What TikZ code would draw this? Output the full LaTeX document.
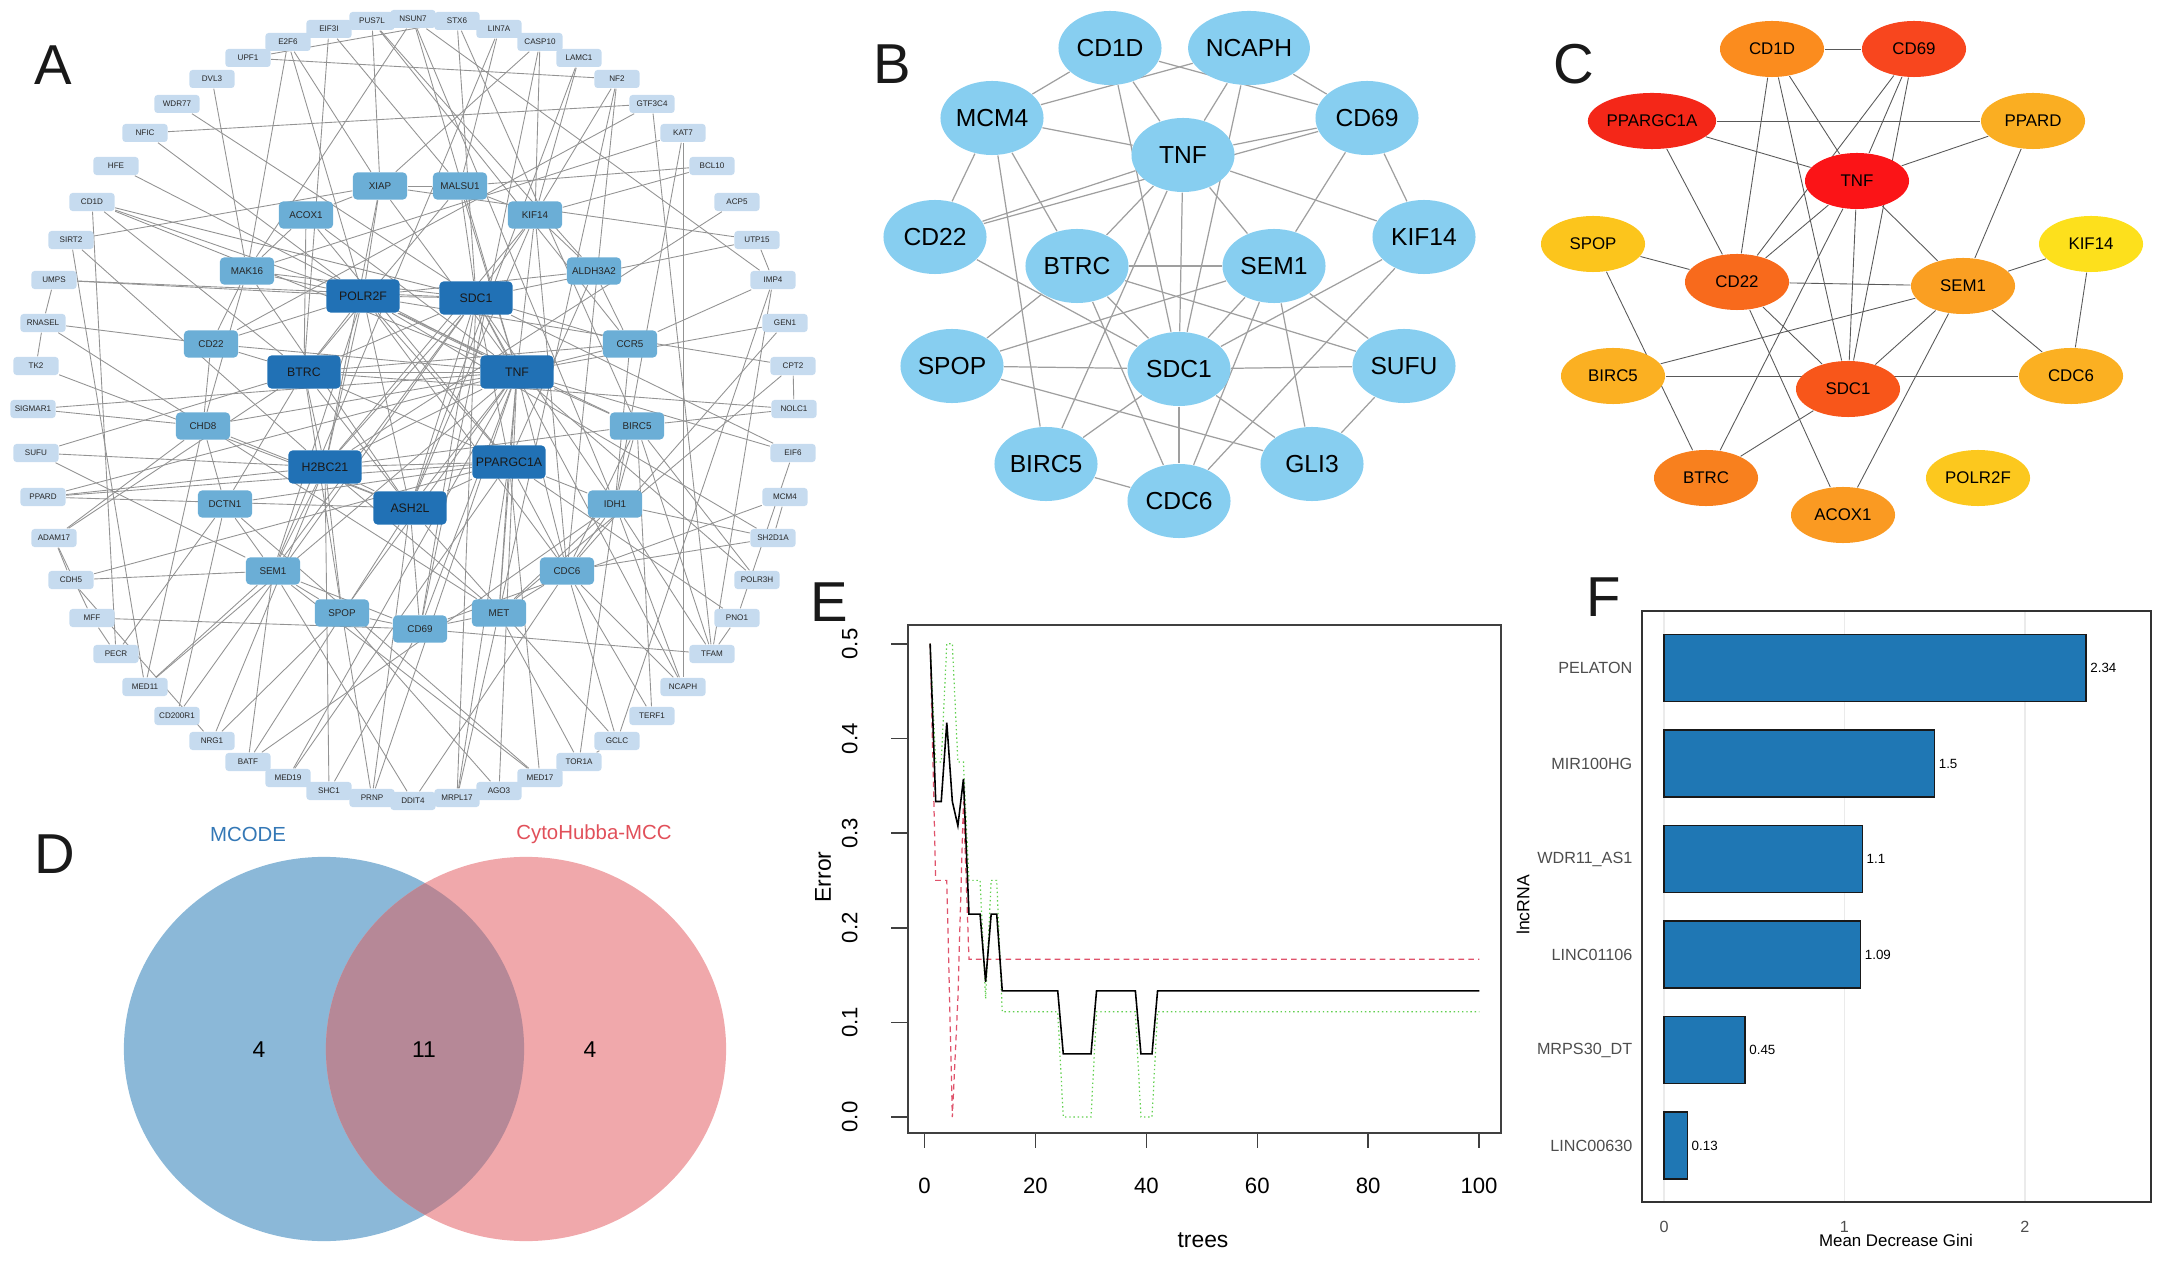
\documentclass[tikz,border=0pt]{standalone}
\usepackage{fontspec}
\setmainfont{Liberation Sans}
\usetikzlibrary{shapes.geometric,backgrounds}
\definecolor{aouter}{RGB}{198,219,239}
\definecolor{amid}{RGB}{107,174,214}
\definecolor{ainner}{RGB}{33,113,181}
\definecolor{bsky}{RGB}{135,206,240}
\definecolor{hCD1D}{RGB}{251,140,30}
\definecolor{hCD69}{RGB}{248,70,30}
\definecolor{hPPARGC1A}{RGB}{244,39,24}
\definecolor{hPPARD}{RGB}{250,174,34}
\definecolor{hTNF}{RGB}{251,20,23}
\definecolor{hSPOP}{RGB}{252,197,28}
\definecolor{hKIF14}{RGB}{253,224,28}
\definecolor{hCD22}{RGB}{248,106,28}
\definecolor{hSEM1}{RGB}{250,159,34}
\definecolor{hBIRC5}{RGB}{251,176,34}
\definecolor{hCDC6}{RGB}{251,176,34}
\definecolor{hSDC1}{RGB}{248,86,26}
\definecolor{hBTRC}{RGB}{248,128,30}
\definecolor{hPOLR2F}{RGB}{252,200,30}
\definecolor{hACOX1}{RGB}{250,154,34}
\definecolor{vblue}{RGB}{139,184,216}
\definecolor{vpink}{RGB}{240,168,171}
\definecolor{vover}{RGB}{182,136,151}
\definecolor{vbluetxt}{RGB}{52,120,182}
\definecolor{vredtxt}{RGB}{225,80,90}
\definecolor{rfred}{RGB}{223,83,107}
\definecolor{rfgreen}{RGB}{97,208,79}
\definecolor{fbar}{RGB}{31,119,180}
\definecolor{fgray}{RGB}{77,77,77}

\begin{document}
\begin{tikzpicture}[x=0.01cm,y=-0.01cm,
  an/.style={rounded corners=0.3mm,fill=aouter,minimum width=4.5mm,minimum height=1.8mm,inner sep=0pt,font=\fontsize{2.3}{2.8}\selectfont,text=black!85},
  am/.style={rounded corners=0.4mm,fill=amid,minimum width=5.4mm,minimum height=2.7mm,inner sep=0pt,font=\fontsize{2.8}{3.4}\selectfont,text=black!85},
  ai/.style={rounded corners=0.4mm,fill=ainner,minimum width=7.3mm,minimum height=3.3mm,inner sep=0pt,font=\fontsize{3.5}{4.2}\selectfont,text=black!90},
  aedge/.style={draw=gray!85,line width=0.25pt},
  bn/.style={ellipse,fill=bsky,minimum width=10.3mm,minimum height=7.4mm,inner sep=0pt,font=\fontsize{7}{8}\selectfont},
  bedge/.style={draw=gray!75,line width=0.35pt},
  cn/.style={ellipse,minimum width=10.4mm,minimum height=5.6mm,inner sep=0pt,font=\fontsize{4.8}{5.6}\selectfont},
  cedge/.style={draw=black!65,line width=0.25pt},
  lab/.style={font=\fontsize{16}{18}\selectfont,text=black!90}]
\useasboundingbox (0,0) rectangle (2160,1261);

\node[lab] (labA) at (53,65) {A};
\node[lab] (labB) at (892,64) {B};
\node[lab] (labC) at (1574,64) {C};
\node[lab] (labD) at (55,854) {D};
\node[lab] (labE) at (829,602) {E};
\node[lab] (labF) at (1604,597) {F};

\foreach \n/\x/\y in {NSUN7/413/19,STX6/457/21,LIN7A/499/29,CASP10/540/42,LAMC1/579/58,NF2/617/79,
  GTF3C4/652/104,KAT7/683/133,BCL10/712/166,ACP5/737/202,UTP15/757/240,IMP4/773/280,GEN1/785/323,
  CPT2/793/366,NOLC1/794/409,EIF6/793/453,MCM4/785/497,SH2D1A/773/538,POLR3H/757/580,PNO1/737/618,
  TFAM/712/654,NCAPH/683/687,TERF1/652/716,GCLC/617/741,TOR1A/579/762,MED17/540/778,AGO3/499/791,
  MRPL17/457/798,DDIT4/413/801,PRNP/372/798,SHC1/329/791,MED19/288/778,BATF/248/762,NRG1/212/741,
  CD200R1/177/716,MED11/145/687,PECR/116/654,MFF/92/618,CDH5/71/580,ADAM17/54/538,PPARD/43/497,
  SUFU/36/453,SIGMAR1/33/409,TK2/36/366,RNASEL/43/323,UMPS/54/280,SIRT2/71/240,CD1D/92/202,
  HFE/116/166,NFIC/145/133,WDR77/177/104,DVL3/212/79,UPF1/248/58,E2F6/288/42,EIF3I/329/29,PUS7L/372/21}
  \node[an] (a\n) at (\x,\y) {\n};
\foreach \n/\x/\y in {XIAP/380/186,MALSU1/460/186,KIF14/535/215,ALDH3A2/594/271,CCR5/630/344,
  BIRC5/637/426,IDH1/615/504,CDC6/567/571,MET/499/613,CD69/420/629,SPOP/342/613,SEM1/273/571,
  DCTN1/225/504,CHD8/203/426,CD22/211/344,MAK16/247/271,ACOX1/306/215}
  \node[am] (a\n) at (\x,\y) {\n};
\foreach \n/\x/\y in {POLR2F/363/296,SDC1/476/298,TNF/517/372,PPARGC1A/509/462,ASH2L/410/508,
  H2BC21/325/467,BTRC/304/372}
  \node[ai] (a\n) at (\x,\y) {\n};

\foreach \n/\x/\y in {CD1D/1110/48,NCAPH/1249/48,MCM4/992/118,CD69/1367/118,TNF/1183/155,
  CD22/935/237,KIF14/1424/237,BTRC/1077/266,SEM1/1274/266,SPOP/952/366,SDC1/1179/369,
  SUFU/1404/366,BIRC5/1046/464,GLI3/1312/464,CDC6/1179/501}
  \node[bn] (b\n) at (\x,\y) {\n};

\foreach \n/\x/\y in {CD1D/1772/49,CD69/1914/49,PPARGC1A/1652/121,PPARD/2033/121,TNF/1857/181,
  SPOP/1593/244,KIF14/2091/244,CD22/1737/282,SEM1/1963/286,BIRC5/1613/376,CDC6/2071/376,
  SDC1/1848/389,BTRC/1706/478,POLR2F/1978/478,ACOX1/1843/515}
  \node[cn,fill=h\n] (c\n) at (\x,\y) {\n};

\begin{scope}[on background layer]
\foreach \u/\v in {POLR2F/SDC1,POLR2F/TNF,POLR2F/BTRC,POLR2F/H2BC21,POLR2F/ASH2L,POLR2F/PPARGC1A,
  SDC1/TNF,SDC1/BTRC,SDC1/H2BC21,SDC1/PPARGC1A,SDC1/ASH2L,TNF/BTRC,TNF/PPARGC1A,TNF/H2BC21,
  TNF/ASH2L,BTRC/H2BC21,BTRC/ASH2L,BTRC/PPARGC1A,H2BC21/ASH2L,H2BC21/PPARGC1A,ASH2L/PPARGC1A,
  XIAP/POLR2F,XIAP/TNF,XIAP/H2BC21,MALSU1/SDC1,MALSU1/BTRC,MALSU1/TNF,KIF14/SDC1,KIF14/TNF,
  KIF14/H2BC21,KIF14/ASH2L,ALDH3A2/POLR2F,ALDH3A2/PPARGC1A,CCR5/TNF,CCR5/BTRC,CCR5/SDC1,
  BIRC5/TNF,BIRC5/POLR2F,BIRC5/H2BC21,IDH1/PPARGC1A,IDH1/SDC1,CDC6/TNF,CDC6/PPARGC1A,
  CDC6/POLR2F,MET/PPARGC1A,MET/TNF,MET/H2BC21,CD69/ASH2L,CD69/TNF,CD69/SDC1,SPOP/H2BC21,
  SPOP/TNF,SPOP/BTRC,SEM1/H2BC21,SEM1/SDC1,SEM1/POLR2F,DCTN1/BTRC,DCTN1/PPARGC1A,CHD8/TNF,
  CHD8/ASH2L,CD22/POLR2F,CD22/BTRC,CD22/TNF,MAK16/POLR2F,MAK16/SDC1,MAK16/ASH2L,ACOX1/BTRC,
  ACOX1/PPARGC1A,ACOX1/TNF,XIAP/MALSU1,XIAP/ACOX1,MALSU1/KIF14,KIF14/ALDH3A2,ALDH3A2/CCR5,
  CCR5/IDH1,BIRC5/IDH1,BIRC5/CDC6,IDH1/CDC6,CDC6/MET,MET/CD69,CD69/SPOP,SPOP/SEM1,SEM1/DCTN1,
  DCTN1/CHD8,CHD8/CD22,CD22/MAK16,MAK16/ACOX1,SEM1/CD69,KIF14/CDC6,MAK16/CHD8,IDH1/MET}
  \draw[aedge] (a\u) -- (a\v);
\foreach \u/\v in {NSUN7/TNF,NSUN7/MAK16,NSUN7/IDH1,STX6/SDC1,STX6/BIRC5,LIN7A/MALSU1,LIN7A/SEM1,
  CASP10/KIF14,CASP10/XIAP,CASP10/CD69,LAMC1/ASH2L,LAMC1/KIF14,NF2/KIF14,NF2/UPF1,NF2/CDC6,NF2/MET,
  GTF3C4/CD22,GTF3C4/TFAM,KAT7/IDH1,KAT7/NCAPH,KAT7/MAK16,BCL10/MALSU1,BCL10/KIF14,ACP5/H2BC21,
  UTP15/SDC1,UTP15/IMP4,UTP15/XIAP,IMP4/NSUN7,IMP4/CCR5,IMP4/TFAM,IMP4/GCLC,GEN1/TNF,GEN1/CDC6,
  CPT2/POLR2F,CPT2/NOLC1,CPT2/MET,NOLC1/BTRC,NOLC1/BIRC5,EIF6/TNF,EIF6/SDC1,EIF6/PNO1,MCM4/CD69,
  MCM4/SH2D1A,SH2D1A/POLR2F,SH2D1A/IDH1,SH2D1A/CDC6,POLR3H/BIRC5,POLR3H/TNF,PNO1/PPARGC1A,
  PNO1/TFAM,TFAM/CD69,TFAM/BIRC5,TFAM/IDH1,NCAPH/CDC6,NCAPH/IDH1,NCAPH/SDC1,TERF1/CDC6,
  TERF1/BIRC5,GCLC/CDC6,GCLC/ASH2L,TOR1A/MET,TOR1A/GCLC,TOR1A/IDH1,MED17/PPARGC1A,MED17/DCTN1,
  MED17/SEM1,AGO3/TNF,AGO3/SPOP,MRPL17/SDC1,MRPL17/PPARGC1A,MRPL17/MET,DDIT4/SEM1,DDIT4/CDC6,
  PRNP/SPOP,PRNP/ASH2L,PRNP/TNF,SHC1/H2BC21,SHC1/CD69,MED19/PPARGC1A,MED19/BATF,MED19/TNF,
  BATF/ASH2L,BATF/SEM1,BATF/IDH1,NRG1/H2BC21,NRG1/SPOP,NRG1/CDH5,CD200R1/DCTN1,CD200R1/SDC1,
  MED11/SEM1,MED11/CHD8,MED11/TNF,PECR/DCTN1,PECR/MFF,MFF/CD69,MFF/ADAM17,CDH5/SEM1,
  CDH5/PPARGC1A,CDH5/ADAM17,ADAM17/CHD8,ADAM17/BTRC,PPARD/H2BC21,PPARD/PPARGC1A,PPARD/ASH2L,
  PPARD/TNF,SUFU/SEM1,SUFU/BTRC,SUFU/H2BC21,SIGMAR1/CHD8,SIGMAR1/TNF,TK2/ASH2L,TK2/RNASEL,
  RNASEL/CD22,RNASEL/UMPS,RNASEL/MET,UMPS/POLR2F,UMPS/SDC1,SIRT2/XIAP,SIRT2/H2BC21,SIRT2/MED11,
  CD1D/BTRC,CD1D/TNF,CD1D/POLR2F,CD1D/SDC1,CD1D/PECR,HFE/TNF,NFIC/POLR2F,NFIC/GTF3C4,WDR77/SDC1,
  DVL3/MAK16,UPF1/STX6,E2F6/MAK16,E2F6/POLR2F,E2F6/XIAP,EIF3I/BTRC,EIF3I/MALSU1,PUS7L/XIAP,
  PUS7L/ALDH3A2,PUS7L/CCR5}
  \draw[aedge] (a\u) -- (a\v);
\foreach \u/\v in {CD1D/CD69,CD1D/MCM4,CD1D/TNF,CD1D/SDC1,NCAPH/MCM4,NCAPH/TNF,NCAPH/SDC1,
  NCAPH/CD69,MCM4/TNF,MCM4/CD22,MCM4/BTRC,MCM4/BIRC5,TNF/CD69,CD22/CD69,CD22/TNF,TNF/BTRC,
  TNF/SDC1,TNF/SEM1,TNF/KIF14,TNF/BIRC5,CD69/SEM1,CD69/KIF14,CD22/SDC1,BTRC/SEM1,BTRC/SDC1,
  BTRC/SPOP,BTRC/SUFU,BTRC/CDC6,SEM1/SPOP,SEM1/SDC1,SEM1/SUFU,SEM1/GLI3,SEM1/CDC6,KIF14/SDC1,
  KIF14/CDC6,SPOP/SDC1,SPOP/GLI3,SDC1/SUFU,SDC1/BIRC5,SDC1/CDC6,SDC1/GLI3,SUFU/GLI3,BIRC5/CDC6}
  \draw[bedge] (b\u) -- (b\v);
\foreach \u/\v in {CD1D/CD69,CD1D/CD22,CD1D/SDC1,CD1D/TNF,CD69/CD22,CD69/TNF,CD69/SDC1,
  PPARGC1A/PPARD,PPARGC1A/TNF,PPARGC1A/CD22,PPARD/TNF,PPARD/SEM1,TNF/CD22,TNF/SDC1,TNF/SEM1,
  TNF/BTRC,SPOP/CD22,CD22/SEM1,SPOP/BTRC,CD22/SDC1,CD22/ACOX1,SEM1/BIRC5,SEM1/SDC1,SEM1/ACOX1,
  SEM1/CDC6,SEM1/KIF14,KIF14/CDC6,BIRC5/CDC6,SDC1/BTRC}
  \draw[cedge] (c\u) -- (c\v);
\end{scope}

\fill[vblue] (324,1049) ellipse [x radius=2cm,y radius=1.92cm];
\fill[vpink] (526,1049) ellipse [x radius=2cm,y radius=1.92cm];
\begin{scope}
  \clip (324,1049) ellipse [x radius=2cm,y radius=1.92cm];
  \fill[vover] (526,1049) ellipse [x radius=2cm,y radius=1.92cm];
\end{scope}
\node[text=vbluetxt,font=\fontsize{5.8}{7}\selectfont] (mcode) at (248,834) {MCODE};
\node[text=vredtxt,font=\fontsize{5.8}{7}\selectfont] (mcc) at (594,834) {CytoHubba-MCC};
\node[font=\fontsize{6.5}{8}\selectfont] (vl) at (259,1050) {4};
\node[font=\fontsize{6.5}{8}\selectfont] (vm) at (424,1050) {11};
\node[font=\fontsize{6.5}{8}\selectfont] (vr) at (590,1050) {4};

\draw[black!75,line width=0.4pt] (908,625) rectangle (1501,1133);
\foreach \t in {0,20,...,100}
  \draw[black!75,line width=0.4pt] ({924.6+5.544*\t},1133) -- ++(0,15)
    node[below=5pt,font=\fontsize{6.3}{7.5}\selectfont,text=black] {\t};
\foreach \v in {0.0,0.1,0.2,0.3,0.4,0.5}
  \draw[black!75,line width=0.4pt] (908,{1117-946*\v}) -- ++(-17,0)
    node[left=6pt,anchor=south,rotate=90,font=\fontsize{6.3}{7.5}\selectfont,text=black] {\v};
\node[rotate=90,font=\fontsize{6.5}{8}\selectfont] (err) at (823,877) {Error};
\node[font=\fontsize{6.5}{8}\selectfont] (trees) at (1203,1240) {trees};
\begin{scope}[shift={(924.6,1117)},x=0.05544cm,y=9.46cm]
  \draw[rfgreen,line width=0.35pt,dash pattern=on 0.4pt off 0.8pt] plot coordinates {(1,0.5) (2,0.375) (3,0.375) (4,0.5) (5,0.5)
    (6,0.375) (7,0.375) (8,0.25) (10,0.25) (11,0.125) (12,0.25) (13,0.25) (14,0.1111) (24,0.1111)
    (25,0) (30,0) (31,0.1111) (38,0.1111) (39,0) (41,0) (42,0.1111) (100,0.1111)};
  \draw[rfred,line width=0.35pt,dash pattern=on 1.6pt off 1.2pt] plot coordinates {(1,0.5) (2,0.25) (4,0.25) (5,0) (6,0.125)
    (7,0.3333) (8,0.1667) (100,0.1667)};
  \draw[black,line width=0.45pt] plot coordinates {(1,0.5) (2,0.3333) (3,0.3333) (4,0.4167) (5,0.3333)
    (6,0.3077) (7,0.3571) (8,0.2143) (10,0.2143) (11,0.1429) (12,0.2143) (13,0.2143) (14,0.1333)
    (24,0.1333) (25,0.0667) (30,0.0667) (31,0.1333) (38,0.1333) (39,0.0667) (41,0.0667) (42,0.1333)
    (100,0.1333)};
\end{scope}

\foreach \g in {0,1,2}
  \draw[black!8,line width=0.4pt] ({1664+180.4*\g},611) -- ({1664+180.4*\g},1202)
    node[below=2pt,text=fgray,font=\fontsize{4.6}{5.5}\selectfont] {\g};
\foreach \v/\yc in {2.34/668,1.5/763.5,1.1/859,1.09/954.5,0.45/1050,0.13/1145.5} {
  \draw[fill=fbar,draw=black!90,line width=0.4pt] (1664,\yc-33.5) rectangle ({1664+180.4*\v},\yc+33.5);
  \node[anchor=west,inner sep=1pt,font=\fontsize{3.8}{4.5}\selectfont] at ({1664+180.4*\v},\yc) {\v};
}
\foreach \n/\yc in {PELATON/668,MIR100HG/763.5,WDR11\_AS1/859,LINC01106/954.5,MRPS30\_DT/1050,LINC00630/1145.5}
  \node[anchor=east,inner sep=0pt,text=fgray,font=\fontsize{4.6}{5.5}\selectfont] at (1633,\yc) {\n};
\draw[black!80,line width=0.4pt] (1642,611) rectangle (2151,1202);
\node[font=\fontsize{4.8}{5.8}\selectfont] (gini) at (1896,1240) {Mean Decrease Gini};
\node[rotate=90,font=\fontsize{5}{6}\selectfont] (lnc) at (1523,905) {lncRNA};
\end{tikzpicture}
\end{document}
